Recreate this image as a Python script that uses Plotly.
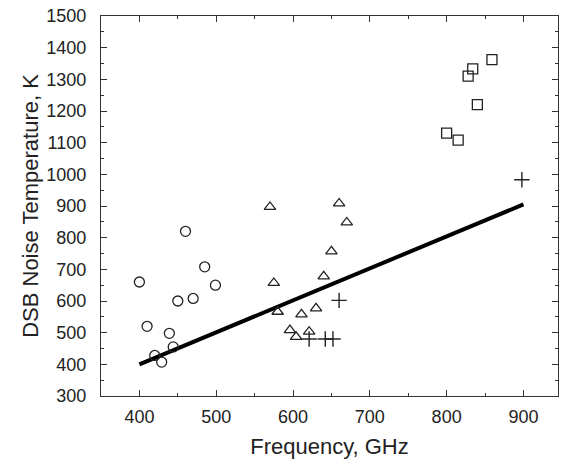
import plotly.graph_objects as go

# Data
circle_f = [400, 410, 420, 429, 439, 444, 450, 460, 470, 485, 499]
circle_t = [660, 520, 428, 407, 498, 455, 600, 820, 608, 708, 650]

tri_f = [570, 575, 580, 596, 604, 611, 621, 630, 640, 650, 660, 670]
tri_t = [897, 657, 566, 508, 487, 558, 503, 577, 678, 757, 908, 848]

sq_f = [800, 815, 828, 834, 840, 859]
sq_t = [1130, 1108, 1310, 1333, 1220, 1362]

plus_f = [621, 642, 652, 660, 898]
plus_t = [480, 480, 480, 602, 983]

fit_f = [400, 900]
fit_t = [400, 905]

x_ticks = [400, 500, 600, 700, 800, 900]
y_ticks = [300, 400, 500, 600, 700, 800, 900, 1000, 1100, 1200, 1300, 1400, 1500]

ink = "#222222"
font_fam = "Liberation Sans, Arial"
fig = go.Figure()
fig.add_trace(go.Scatter(x=fit_f, y=fit_t, mode="lines",
                         line=dict(color="black", width=4), showlegend=False))
mk = dict(size=10, color=ink, line=dict(color=ink, width=1.3))
fig.add_trace(go.Scatter(x=circle_f, y=circle_t, mode="markers",
                         marker=dict(symbol="circle-open", **mk), showlegend=False))
fig.add_trace(go.Scatter(x=tri_f, y=tri_t, mode="markers",
                         marker=dict(symbol="triangle-up-open", **mk), showlegend=False))
fig.add_trace(go.Scatter(x=sq_f, y=sq_t, mode="markers",
                         marker=dict(symbol="square-open", **mk), showlegend=False))
fig.add_trace(go.Scatter(x=plus_f, y=plus_t, mode="markers",
                         marker=dict(symbol="cross-thin-open", size=11, color=ink,
                                     line=dict(color=ink, width=1.4)), showlegend=False))

axis_common = dict(showgrid=False, zeroline=False, showline=True, linecolor="#333333",
                   linewidth=1.3, mirror="ticks", ticks="inside", ticklen=6,
                   tickwidth=1.2, tickcolor="#333333", automargin=False,
                   tickfont=dict(family=font_fam, size=18, color="#222222"),
                   minor=dict(ticks="inside", ticklen=3, tickcolor="#333333", dtick=50))

fig.update_xaxes(range=[350, 945], tickvals=x_ticks, ticklabelstandoff=4,
                 title=dict(text="Frequency, GHz", standoff=12,
                            font=dict(family=font_fam, size=22, color="#222222")),
                 **axis_common)
fig.update_yaxes(range=[300, 1500], tickvals=y_ticks, ticklabelstandoff=10,
                 title=dict(text="DSB Noise Temperature, K", standoff=1,
                            font=dict(family=font_fam, size=22, color="#222222")),
                 **axis_common)

fig.update_layout(width=562, height=464, plot_bgcolor="white", paper_bgcolor="white",
                  margin=dict(l=101, r=4, t=16, b=68))
fig.write_html("out.html", config={"displayModeBar": False},
               post_script="document.body.style.margin='0';")
